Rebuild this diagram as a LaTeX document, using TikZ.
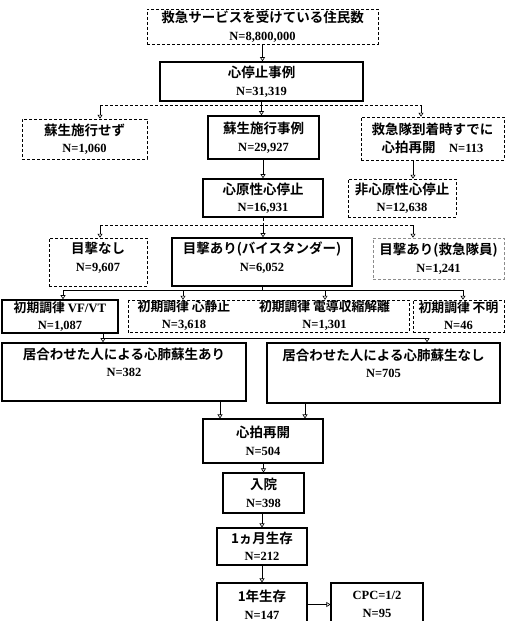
\documentclass[tikz,border=0pt]{standalone}
\usepackage{fontspec}
\setmainfont{Liberation Serif}
\newfontfamily\jpf{Noto Sans CJK JP}[BoldFont={* Bold}]
\usetikzlibrary{arrows.meta}
\newcommand{\jp}{\jpf\bfseries\fontsize{13.5}{17.5}\selectfont}
\newcommand{\jps}{\jpf\bfseries\fontsize{12.8}{17}\selectfont}
\newcommand{\nm}{\rmfamily\bfseries\fontsize{12.5}{17.5}\selectfont}
\tikzset{
  box/.style={rectangle, align=center, inner sep=1pt, font=\jp},
  thickbox/.style={box, draw, line width=1.6pt},
  midbox/.style={box, draw, line width=1.1pt},
  thinbox/.style={box, draw, densely dashed, line width=0.5pt},
  arr/.style={-{Triangle[open,length=4pt,width=5pt]}, line width=0.6pt},
  dline/.style={densely dashed, line width=0.5pt},
  sline/.style={line width=0.6pt},
}
\begin{document}
\begin{tikzpicture}[x=1pt,y=-1pt]
\useasboundingbox (0,0) rectangle (512,621);
% nodes
\node[thinbox, minimum width=231pt, minimum height=35pt] (pop) at (262.5,26.5) {救急サービスを受けている住民数\\\nm N=8,800,000};
\node[thickbox, minimum width=203pt, minimum height=39pt] (cpa) at (261.5,81.5) {心停止事例\\\nm N=31,319};
\node[thinbox, minimum width=125pt, minimum height=40pt] (nores) at (84.5,139) {蘇生施行せず\\\nm N=1,060};
\node[thickbox, minimum width=111pt, minimum height=43pt] (res) at (263.5,137.5) {蘇生施行事例\\\nm N=29,927};
\node[thinbox, minimum width=143pt, minimum height=43pt] (rosc0) at (432.5,138.5) {救急隊到着時すでに\\心拍再開\quad{\nm N=113}};
\node[thickbox, minimum width=120pt, minimum height=38pt] (card) at (263,198) {心原性心停止\\\nm N=16,931};
\node[thinbox, minimum width=108pt, minimum height=38pt] (noncard) at (402,198) {非心原性心停止\\\nm N=12,638};
\node[thinbox, minimum width=98pt, minimum height=48pt] (nowit) at (98,262) {目撃なし\\\nm N=9,607\\[-7pt]\mbox{}};
\node[thickbox, minimum width=180pt, minimum height=48pt] (wit) at (262,262) {目撃あり(バイスタンダー)\\\nm N=6,052\\[-7pt]\mbox{}};
\node[thinbox, draw=black!45, minimum width=131pt, minimum height=41pt] (witems) at (438.5,258.5) {目撃あり(救急隊員)\\\nm N=1,241};
\node[thickbox, font=\jps, minimum width=116pt, minimum height=33pt] (vf) at (60,316.5) {初期調律 {\rmfamily VF/VT}\\\nm N=1,087};
\node[box, font=\jps, minimum width=112pt, minimum height=32pt] (asys) at (184,316) {初期調律 心静止\\\nm N=3,618};
\node[box, font=\jps, minimum width=169pt, minimum height=32pt] (pea) at (324.5,316) {初期調律 電導収縮解離\\\nm N=1,301};
\draw[dline] (asys.north west) rectangle (pea.south east);
\node[thinbox, font=\jps, minimum width=91pt, minimum height=32pt] (unk) at (458.5,316) {初期調律 不明\\\nm N=46};
\node[thickbox, minimum width=244pt, minimum height=58pt] (bcpr) at (124,372) {居合わせた人による心肺蘇生あり\\\nm N=382\\[2pt]\mbox{}};
\node[thickbox, minimum width=233pt, minimum height=60pt] (nobcpr) at (383.5,373) {居合わせた人による心肺蘇生なし\\\nm N=705\\[2pt]\mbox{}};
\node[midbox, minimum width=120pt, minimum height=44pt] (rosc) at (263,441) {心拍再開\\\nm N=504};
\node[midbox, minimum width=81pt, minimum height=40pt] (adm) at (263.5,493) {入院\\\nm N=398};
\node[midbox, minimum width=90pt, minimum height=37pt] (m1) at (262,546.5) {1ヵ月生存\\\nm N=212};
\node[midbox, minimum width=90pt, minimum height=43pt] (y1) at (262,604.5) {1年生存\\\nm N=147};
\node[midbox, minimum width=92pt, minimum height=43pt] (cpc) at (377,604.5) {{\nm CPC=1/2}\\\nm N=95};
% connectors
\draw[arr] (pop.south) -- (pop.south |- cpa.north);
\coordinate (j1) at (261.5,105);
\coordinate (j1L) at (100,105);
\coordinate (j1R) at (421,105);
\draw[dline] (cpa.south) -- (j1);
\draw[dline] (j1L) -- (j1R);
\draw[arr] (j1L) -- (j1L |- nores.north);
\draw[arr] (j1) -- (j1 |- res.north);
\draw[arr] (j1R) -- (j1R |- rosc0.north);
\draw[arr] (res.south -| card.north) -- (card.north);
\coordinate (nc) at (413,160);
\draw[arr] (nc |- rosc0.south) -- (nc |- noncard.north);
\coordinate (j2) at (263,225);
\coordinate (j2L) at (100,225);
\coordinate (j2R) at (413,225);
\draw[dline] (card.south) -- (j2);
\draw[dline] (j2L) -- (j2R);
\draw[arr] (j2L) -- (j2L |- nowit.north);
\draw[arr] (j2) -- (j2 |- wit.north);
\draw[arr] (j2R) -- (j2R |- witems.north);
\coordinate (j3) at (262,290);
\coordinate (j3L) at (63,290);
\coordinate (j3R) at (463,290);
\coordinate (j3a) at (183,290);
\coordinate (j3b) at (325,290);
\draw[sline] (wit.south) -- (j3);
\draw[sline] (j3L) -- (j3R);
\draw[arr] (j3L) -- (j3L |- vf.north);
\draw[arr] (j3a) -- (j3a |- asys.north);
\draw[arr] (j3b) -- (j3b |- pea.north);
\draw[arr] (j3R) -- (j3R |- unk.north);
\coordinate (j4L) at (103,338);
\coordinate (j4R) at (427,338);
\draw[sline] (j4L |- vf.south) -- (j4L) -- (j4R);
\draw[arr] (j4L) -- (j4L |- bcpr.north);
\draw[arr] (j4R) -- (j4R |- nobcpr.north);
\coordinate (ra) at (220,410);
\coordinate (rb) at (305,410);
\draw[arr] (ra |- bcpr.south) -- (ra |- rosc.north);
\draw[arr] (rb |- nobcpr.south) -- (rb |- rosc.north);
\draw[arr] (rosc.south -| adm.north) -- (adm.north);
\draw[arr] (adm.south -| m1.north) -- (m1.north);
\draw[arr] (m1.south) -- (y1.north);
\draw[arr] (y1.east) -- (cpc.west);
\end{tikzpicture}
\end{document}
